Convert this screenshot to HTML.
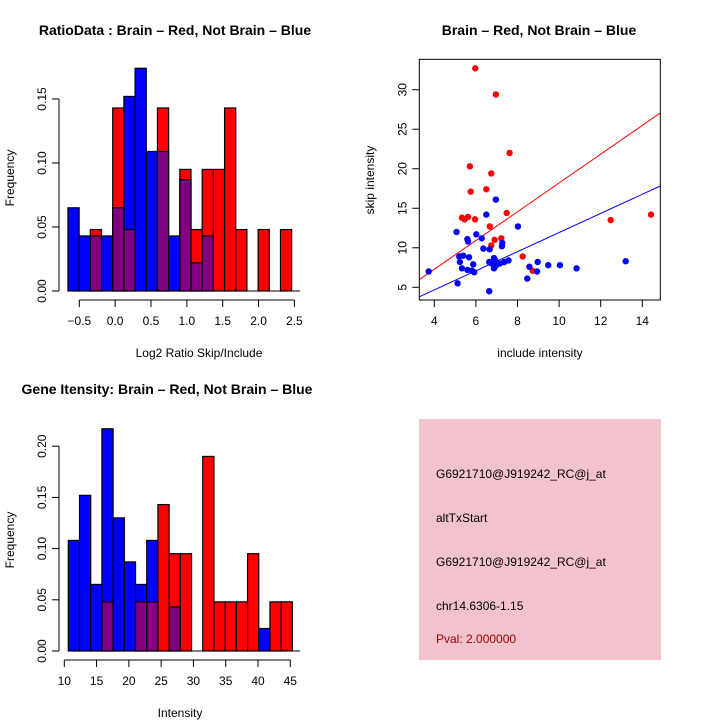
<!DOCTYPE html>
<html><head><meta charset="utf-8"><style>
html,body{margin:0;padding:0;background:#fff;}
svg{display:block;font-family:"Liberation Sans",sans-serif;}
</style></head><body>
<svg id="c" width="720" height="720" viewBox="0 0 720 720" xmlns="http://www.w3.org/2000/svg">
<rect width="720" height="720" fill="#fff"/>
<text x="175" y="35" font-size="14" font-weight="bold" text-anchor="middle">RatioData : Brain – Red, Not Brain – Blue</text>
<text x="539" y="35" font-size="14" font-weight="bold" text-anchor="middle">Brain – Red, Not Brain – Blue</text>
<text x="167" y="394" font-size="14" font-weight="bold" text-anchor="middle">Gene Itensity: Brain – Red, Not Brain – Blue</text>
<text x="199" y="357" font-size="12" text-anchor="middle">Log2 Ratio Skip/Include</text>
<text x="14" y="178" font-size="12" text-anchor="middle" transform="rotate(-90 14 178)">Frequency</text>
<text x="540" y="357" font-size="12" text-anchor="middle">include intensity</text>
<text x="374" y="180" font-size="12" text-anchor="middle" transform="rotate(-90 374 180)">skip intensity</text>
<text x="180" y="717" font-size="12" text-anchor="middle">Intensity</text>
<text x="14" y="540" font-size="12" text-anchor="middle" transform="rotate(-90 14 540)">Frequency</text>
<g id="g1"></g>
<g id="g2"></g>
<g id="g3"></g>
<g>
<rect x="419" y="419" width="242" height="241" fill="#f2c3cd"/>
<text x="436" y="478" font-size="12">G6921710@J919242_RC@j_at</text>
<text x="436" y="522" font-size="12">altTxStart</text>
<text x="436" y="566" font-size="12">G6921710@J919242_RC@j_at</text>
<text x="436" y="610" font-size="12">chr14.6306-1.15</text>
<text x="436" y="643" font-size="12" fill="#a00000">Pval: 2.000000</text>
</g>
</svg>
<script>
// Ratio histogram data (20 bins)
const ratioBinStart = -0.658;
const ratioBinWidth = 0.156;
const ratioBlue = [0.065,0.043,0.043,0.043,0.065,0.152,0.174,0.109,0.109,0.043,0.087,0.022,0.043,0,0,0,0,0,0,0];
const ratioRed = [0,0,0.048,0,0.143,0.048,0,0,0.143,0,0.095,0.048,0.095,0.095,0.143,0.048,0,0.048,0,0.048];
const ratioXTicks = [-0.5,0,0.5,1,1.5,2,2.5];
const ratioXLabels = ["−0.5","0.0","0.5","1.0","1.5","2.0","2.5"];
const ratioYTicks = [0,0.05,0.10,0.15];
const ratioYLabels = ["0.00","0.05","0.10","0.15"];
// Intensity histogram data (20 bins)
const intBinStart = 10.62;
const intBinWidth = 1.735;
const intBlue = [0.108,0.152,0.065,0.217,0.130,0.087,0.065,0.108,0,0.043,0,0,0,0,0,0,0,0.022,0,0];
const intRed = [0,0,0,0.048,0,0,0.048,0.048,0.143,0.095,0.095,0,0.190,0.048,0.048,0.048,0.095,0,0.048,0.048];
const intXTicks = [10,15,20,25,30,35,40,45];
const intYTicks = [0,0.05,0.10,0.15,0.20];
const intYLabels = ["0.00","0.05","0.10","0.15","0.20"];
// Scatter data
const redX = [5.97,6.96,7.62,5.71,6.74,5.75,6.5,7.48,5.33,5.62,5.46,5.96,6.67,7.22,6.9,6.74,8.25,8.73,12.48,14.42,6.95];
const redY = [32.7,29.4,22.0,20.3,19.4,17.1,17.4,14.4,13.8,13.9,13.6,13.6,12.7,11.2,11.0,10.3,8.9,7.1,13.5,14.2,8.0];
const blueX = [3.73,5.07,5.12,5.59,5.62,6.02,6.28,6.36,6.66,6.5,6.96,8.02,7.27,7.25,5.2,5.23,5.39,5.67,5.33,5.59,5.81,5.87,5.92,6.64,6.64,6.76,6.87,6.93,7.02,7.15,7.36,7.57,6.87,6.95,8.57,8.47,8.97,8.94,9.48,10.04,10.84,13.2];
const blueY = [7.0,12.0,5.5,11.1,10.8,11.7,11.2,9.9,9.8,14.2,16.1,12.7,10.6,10.2,8.9,8.2,9.0,8.8,7.4,7.2,7.1,7.9,6.9,4.5,8.2,8.0,8.7,8.4,8.0,8.0,8.2,8.4,7.4,7.7,7.6,6.1,8.2,7.0,7.8,7.8,7.4,8.3];
const redSlope = 1.82, redIntercept = 0;
const blueSlope = 1.21, blueIntercept = -0.17;
const scXTicks = [4,6,8,10,12,14];
const scYTicks = [5,10,15,20,25,30];

const NS = "http://www.w3.org/2000/svg";
function mk(parent, tag, attrs){const e=document.createElementNS(NS,tag);for(const k in attrs)e.setAttribute(k,attrs[k]);parent.appendChild(e);return e;}

function hist(g, cfg){
  const xs = v => cfg.x0 + (v - cfg.xmin) * cfg.xs;
  const ys = v => cfg.y0 - v * cfg.ys;
  cfg.blue.forEach((b,i)=>{
    const r = cfg.red[i];
    const xl = xs(cfg.start + i*cfg.w), xr = xs(cfg.start + (i+1)*cfg.w);
    const mx = Math.max(b,r), mn = Math.min(b,r);
    if(mx>0){
      const el = mk(g,'rect',{x:xl,y:ys(mx),width:xr-xl,height:ys(0)-ys(mx),fill:b>=r?'#0000ff':'#ff0000',stroke:'#000','stroke-width':1.2});
      
      
    }
    if(mn>0){
      const el = mk(g,'rect',{x:xl,y:ys(mn),width:xr-xl,height:ys(0)-ys(mn),fill:'#800080',stroke:'#000','stroke-width':1.2});
      
      
    }
  });
  const yt = cfg.yTicks;
  mk(g,'line',{x1:cfg.yAxisX,x2:cfg.yAxisX,y1:ys(yt[0]),y2:ys(yt[yt.length-1]),stroke:'#000'});
  yt.forEach((t,i)=>{
    mk(g,'line',{x1:cfg.yAxisX-7,x2:cfg.yAxisX,y1:ys(t),y2:ys(t),stroke:'#000'});
    const tx = mk(g,'text',{x:cfg.yAxisX-13,y:ys(t),'font-size':12,'text-anchor':'middle',transform:`rotate(-90 ${cfg.yAxisX-13} ${ys(t)})`});
    tx.textContent = cfg.yLabels[i];
    
    
  });
  mk(g,'line',{x1:xs(cfg.start),x2:cfg.baseEnd,y1:ys(0),y2:ys(0),stroke:'#000'});
  const xt = cfg.xTicks;
  mk(g,'line',{x1:xs(xt[0]),x2:xs(xt[xt.length-1]),y1:cfg.xAxisY,y2:cfg.xAxisY,stroke:'#000'});
  xt.forEach((t,i)=>{
    mk(g,'line',{x1:xs(t),x2:xs(t),y1:cfg.xAxisY,y2:cfg.xAxisY+7,stroke:'#000'});
    const tx = mk(g,'text',{x:xs(t),y:cfg.xAxisY+25,'font-size':12,'text-anchor':'middle'});
    tx.textContent = cfg.xLabels[i];
    
    
  });
}

hist(document.getElementById('g1'),{x0:79.3,xmin:-0.5,xs:71.7,y0:291,ys:1280,start:ratioBinStart,w:ratioBinWidth,blue:ratioBlue,red:ratioRed,
  yTicks:ratioYTicks,yLabels:ratioYLabels,yAxisX:59,xTicks:ratioXTicks,xLabels:ratioXLabels,xAxisY:300,baseEnd:300});
hist(document.getElementById('g3'),{x0:64.3,xmin:10,xs:6.457,y0:651,ys:1024,start:intBinStart,w:intBinWidth,blue:intBlue,red:intRed,
  yTicks:intYTicks,yLabels:intYLabels,yAxisX:59,xTicks:intXTicks,xLabels:intXTicks.map(String),xAxisY:660,baseEnd:300});

(function(){
  const g = document.getElementById('g2');
  const L=419.3,R=660.3,T=59.3,B=300;
  const xs = v => 434.3 + (v-4)*20.8;
  const ys = v => 287.3 - (v-5)*7.904;
  const xinv = p => 4 + (p-434.3)/20.8;
  mk(g,'defs',{}).innerHTML='<clipPath id="clp"><rect x="'+L+'" y="'+T+'" width="'+(R-L)+'" height="'+(B-T)+'"/></clipPath>';
  const lg = mk(g,'g',{'clip-path':'url(#clp)'});
  const x1=xinv(L), x2=xinv(R);
  const rl = mk(lg,'line',{x1:L,x2:R,y1:ys(redSlope*x1+redIntercept),y2:ys(redSlope*x2+redIntercept),stroke:'#ff0000'});
  
  
  const bl = mk(lg,'line',{x1:L,x2:R,y1:ys(blueSlope*x1+blueIntercept),y2:ys(blueSlope*x2+blueIntercept),stroke:'#0000ff'});
  
  
  redX.forEach((x,i)=>{
    const c = mk(g,'circle',{cx:xs(x),cy:ys(redY[i]),r:3.2,fill:'#ff0000'});
    
    
  });
  blueX.forEach((x,i)=>{
    const c = mk(g,'circle',{cx:xs(x),cy:ys(blueY[i]),r:3.2,fill:'#0000ff'});
    
    
  });
  mk(g,'rect',{x:L,y:T,width:R-L,height:B-T,fill:'none',stroke:'#000'});
  scXTicks.forEach(t=>{
    mk(g,'line',{x1:xs(t),x2:xs(t),y1:B,y2:B+7,stroke:'#000'});
    const tx = mk(g,'text',{x:xs(t),y:B+25,'font-size':12,'text-anchor':'middle'});
    tx.textContent = t;
    
    
  });
  scYTicks.forEach(t=>{
    mk(g,'line',{x1:L-7,x2:L,y1:ys(t),y2:ys(t),stroke:'#000'});
    const tx = mk(g,'text',{x:L-13,y:ys(t),'font-size':12,'text-anchor':'middle',transform:`rotate(-90 ${L-13} ${ys(t)})`});
    tx.textContent = t;
    
    
  });
})();
</script>
</body></html>
